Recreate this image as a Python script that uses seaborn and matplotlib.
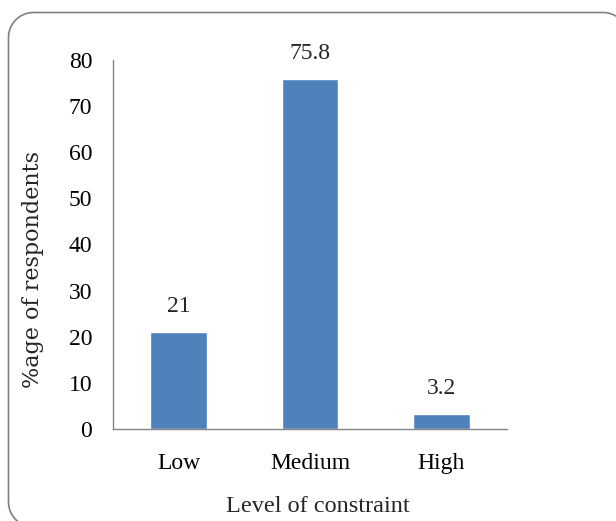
import matplotlib.pyplot as plt
import seaborn as sns
import pandas as pd
import numpy as np
from matplotlib.patches import Polygon
from matplotlib.transforms import IdentityTransform

levels = ["Low", "Medium", "High"]
percent = [21, 75.8, 3.2]
value_labels = ["21", "75.8", "3.2"]

df = pd.DataFrame({"level": levels, "percent": percent})

sns.set_style("white")
plt.rcParams['font.family'] = ['Liberation Serif', 'DejaVu Serif']

fig = plt.figure(figsize=(6.16, 5.21), dpi=100)
ax = fig.add_axes([113 / 616, 1 - 429 / 521, 394 / 616, 369 / 521])

sns.barplot(x="level", y="percent", data=df, color="#4F81BD", saturation=1,
            width=0.43, ax=ax)

ax.set_xlim(-0.5, 2.5)
ax.set_ylim(0, 80)
ax.set_yticks(range(0, 81, 10))
ax.tick_params(axis="both", length=0, labelsize=17, colors="black")
ax.tick_params(axis="y", pad=15)
ax.tick_params(axis="x", pad=17)

for i, (v, t) in enumerate(zip(percent, value_labels)):
    ax.text(i, v + 3.3, t, ha="center", va="bottom", fontsize=17)

for s in ["top", "right"]:
    ax.spines[s].set_visible(False)
for s in ["left", "bottom"]:
    ax.spines[s].set_color("#868686")
    ax.spines[s].set_linewidth(1)

ax.set_xlabel("")
ax.set_ylabel("")
fig.text(318 / 616, 1 - 507 / 521, "Level of constraint", ha="center", va="center", fontsize=17.5)
fig.text(33 / 616, 1 - 270 / 521, "%age of respondents", ha="center", va="center",
         rotation=90, fontsize=16, family="DejaVu Serif")

# rounded chart-area border, in pixels (origin bottom-left)
x0, x1, y0, y1, r = 8.5, 628, -6, 508.5, 25
pts = []
for cx, cy, a0 in [(x1 - r, y1 - r, 0), (x0 + r, y1 - r, 90),
                   (x0 + r, y0 + r, 180), (x1 - r, y0 + r, 270)]:
    a = np.radians(np.linspace(a0, a0 + 90, 20))
    pts += list(zip(cx + r * np.cos(a), cy + r * np.sin(a)))
frame = Polygon(pts, closed=True, fill=False, edgecolor="#808080", linewidth=1.2,
                transform=IdentityTransform(), clip_on=False)
fig.patches.append(frame)

fig.savefig("out.png", dpi=100)
